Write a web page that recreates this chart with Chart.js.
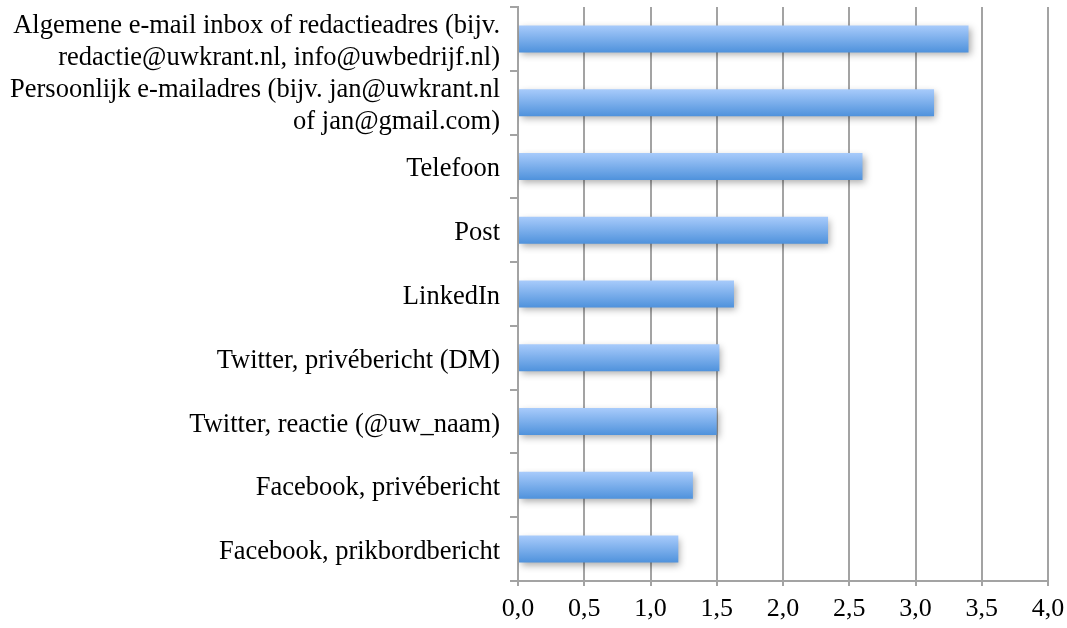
<!DOCTYPE html>
<html>
<head>
<meta charset="utf-8">
<script src="https://cdn.jsdelivr.net/npm/chart.js@4"></script>
<style>
html,body{margin:0;padding:0;background:#fff;}
#wrap{width:1067px;height:628px;position:relative;}
</style>
</head>
<body>
<div id="wrap"><canvas id="c" width="1067" height="628"></canvas></div>
<script>
const categories = [
  ["Algemene e-mail inbox of redactieadres (bijv.", "redactie@uwkrant.nl, info@uwbedrijf.nl)"],
  ["Persoonlijk e-mailadres (bijv. jan@uwkrant.nl", "of jan@gmail.com)"],
  "Telefoon",
  "Post",
  "LinkedIn",
  "Twitter, privébericht (DM)",
  "Twitter, reactie (@uw_naam)",
  "Facebook, privébericht",
  "Facebook, prikbordbericht"
];
const values = [3.40, 3.14, 2.60, 2.34, 1.63, 1.52, 1.50, 1.32, 1.21];
const xMin = 0, xMax = 4, xStep = 0.5;

const FONT = "'Liberation Serif', 'DejaVu Serif', serif";
const GRAY = '#a3a3a3';
const BAR_FRAC = 0.423;

function barGradient(c) {
  const ch = c.chart;
  const ys = ch.scales && ch.scales.y;
  if (!ys || !isFinite(ys.height) || ys.height <= 0) return '#79b0ec';
  const yc = ys.getPixelForValue(c.dataIndex);
  const h = ys.height / categories.length * BAR_FRAC;
  const g = ch.ctx.createLinearGradient(0, yc - h / 2, 0, yc + h / 2);
  g.addColorStop(0, '#a8cbfb');
  g.addColorStop(1, '#4f92dc');
  return g;
}

const barShadow = {
  id: 'barShadow',
  beforeDatasetsDraw(chart) {
    const ctx = chart.ctx;
    ctx.save();
    ctx.shadowColor = 'rgba(0,0,0,0.33)';
    ctx.shadowBlur = 7;
    ctx.shadowOffsetX = 2;
    ctx.shadowOffsetY = 3;
  },
  afterDatasetsDraw(chart) {
    chart.ctx.restore();
  }
};

new Chart(document.getElementById('c'), {
  type: 'bar',
  data: {
    labels: categories,
    datasets: [{
      data: values,
      backgroundColor: barGradient,
      borderWidth: 0,
      barPercentage: BAR_FRAC / 0.5,
      categoryPercentage: 0.5
    }]
  },
  options: {
    indexAxis: 'y',
    responsive: false,
    animation: false,
    devicePixelRatio: 1,
    layout: { padding: { top: 7, right: 19, left: 0, bottom: 0 } },
    plugins: { legend: { display: false }, tooltip: { enabled: false } },
    scales: {
      x: {
        min: xMin, max: xMax,
        ticks: {
          stepSize: xStep,
          color: '#000',
          font: { family: FONT, size: 26 },
          padding: 8,
          maxRotation: 0,
          callback: v => v.toFixed(1).replace('.', ',')
        },
        grid: { color: GRAY, lineWidth: 2, tickLength: 5, drawOnChartArea: true },
        border: { color: GRAY, width: 2 },
        afterFit(s) { s.height = 47; s.paddingLeft = 0; s.paddingRight = 0; }
      },
      y: {
        offset: true,
        ticks: {
          autoSkip: false,
          color: '#000',
          font: { family: FONT, size: 26.5, lineHeight: 1.2 },
          padding: 10,
          labelOffset: 3
        },
        grid: { offset: true, color: GRAY, lineWidth: 2, tickLength: 8, drawOnChartArea: false },
        border: { color: GRAY, width: 2 },
        afterFit(s) { s.width = 518; s.paddingTop = 0; s.paddingBottom = 0; }
      }
    }
  },
  plugins: [barShadow]
});
</script>
</body>
</html>
